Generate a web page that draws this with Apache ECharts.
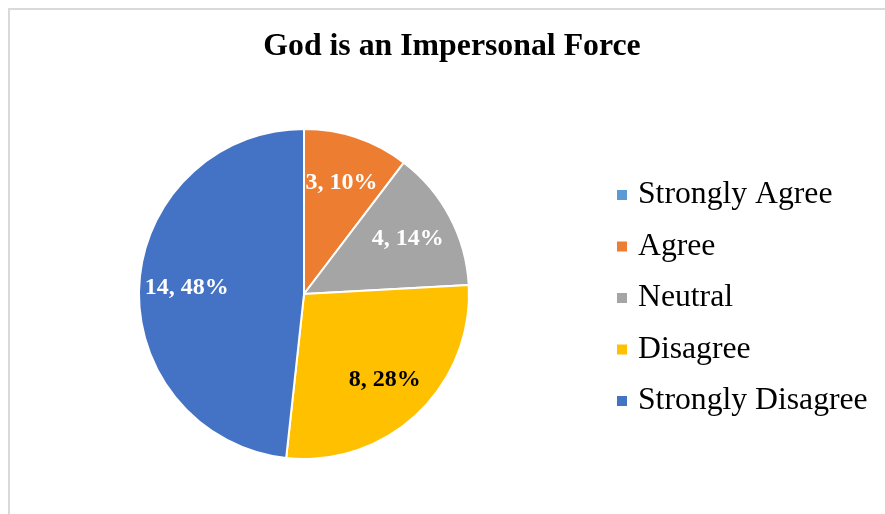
<!DOCTYPE html>
<html lang="en">
    <head>
        <meta charset="UTF-8" />
        <title>God is an Impersonal Force</title>
        <script src="https://cdn.jsdelivr.net/npm/echarts@6/dist/echarts.min.js"></script>
        <style>
            body { margin: 0; background: #fff; }
        </style>
    </head>
    <body>
        <!-- Chart container -->
        <div id="main" style="width: 885px; height: 514px"></div>

        <script>
            // Survey answers and counts
            const categories = ["Strongly Agree", "Agree", "Neutral", "Disagree", "Strongly Disagree"];
            const counts = [0, 3, 4, 8, 14];

            const colors = ["#5B9BD5", "#ED7D31", "#A5A5A5", "#FFC000", "#4472C4"];
            const labelColors = ["#fff", "#fff", "#fff", "#000", "#fff"];

            const serif = "'Liberation Serif', 'Times New Roman', serif";
            let myChart = echarts.init(document.getElementById("main"));

            const sliceData = categories.map((name, i) => ({ name: name, value: counts[i] }));
            const labelData = categories.map((name, i) => ({
                name: name,
                value: counts[i],
                label: { color: labelColors[i] }
            }));

            let options = {
                animation: false,
                color: colors,
                title: {
                    text: "God is an Impersonal Force",
                    left: 447,
                    top: 26,
                    textAlign: "center",
                    textStyle: { fontFamily: serif, fontSize: 31.8, fontWeight: "bold", color: "#000" }
                },
                graphic: [
                    {
                        type: "rect",
                        shape: { x: 9, y: 9, width: 1000, height: 1000 },
                        style: { fill: "none", stroke: "#d9d9d9", lineWidth: 2 },
                        silent: true
                    }
                ],
                legend: {
                    orient: "vertical",
                    left: 612,
                    top: 174,
                    icon: "rect",
                    itemWidth: 10,
                    itemHeight: 10,
                    itemGap: 19.5,
                    itemStyle: { borderWidth: 0 },
                    data: categories,
                    textStyle: { fontFamily: serif, fontSize: 31.7, lineHeight: 32, color: "#000", padding: [0, 0, 0, 6] }
                },
                series: [
                    {
                        name: "slices",
                        type: "pie",
                        center: [304, 294],
                        radius: [0, 165],
                        startAngle: 90,
                        clockwise: true,
                        silent: true,
                        itemStyle: { borderColor: "#fff", borderWidth: 2 },
                        label: { show: false },
                        labelLine: { show: false },
                        data: sliceData
                    },
                    {
                        // transparent ring only used to place the labels at ~70% of the radius
                        name: "labels",
                        type: "pie",
                        center: [304, 294],
                        radius: [64, 165],
                        startAngle: 90,
                        clockwise: true,
                        silent: true,
                        itemStyle: { color: "rgba(0,0,0,0)", borderWidth: 0 },
                        label: {
                            show: true,
                            position: "inside",
                            fontFamily: serif,
                            fontSize: 24,
                            fontWeight: "bold",
                            formatter: (p) => (p.value ? p.value + ", " + Math.round(p.percent) + "%" : "")
                        },
                        labelLine: { show: false },
                        data: labelData
                    }
                ]
            };

            myChart.setOption(options);
        </script>
    </body>
</html>
